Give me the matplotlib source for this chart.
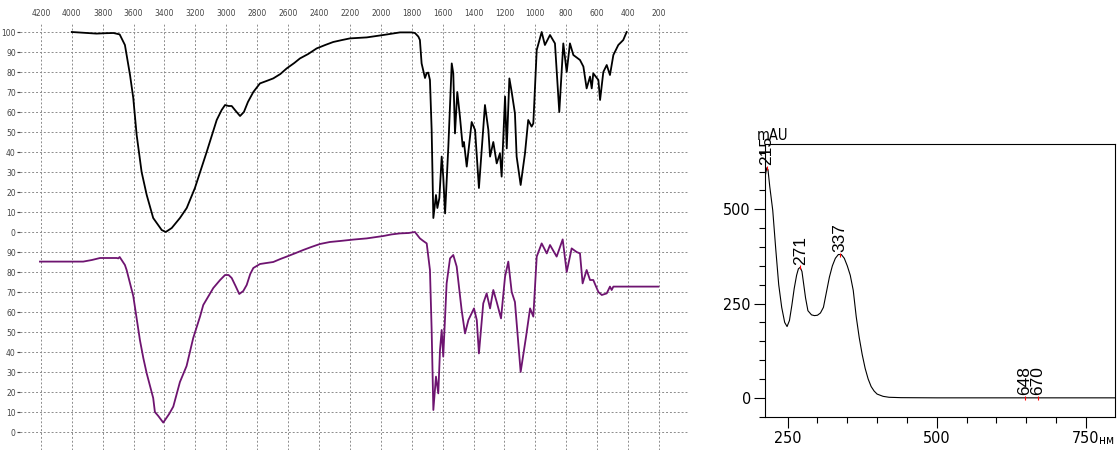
import matplotlib
matplotlib.use('Agg')
import matplotlib.pyplot as plt
from matplotlib.ticker import MultipleLocator
from matplotlib import font_manager
import numpy as np

# --- IR spectrum, upper trace (black), transmittance %
ir_top_wn = [4000, 3900, 3840, 3780, 3730, 3690, 3656, 3623, 3602, 3580, 3548, 3515, 3473, 3418, 3392,
             3353, 3300, 3256, 3203, 3127, 3062, 3030, 3008, 2985, 2965, 2944, 2911, 2886, 2860, 2825,
             2782, 2740, 2696, 2650, 2609, 2560, 2523, 2470, 2415, 2360, 2308, 2250, 2200, 2091, 1984,
             1876, 1800, 1779, 1757, 1747, 1736, 1714, 1703, 1693, 1682, 1671, 1660, 1643, 1634, 1621,
             1606, 1596, 1584, 1563, 1541, 1531, 1520, 1505, 1488, 1470, 1462, 1444, 1412, 1390, 1365,
             1326, 1304, 1293, 1272, 1250, 1229, 1218, 1196, 1185, 1168, 1153, 1132, 1121, 1095, 1067,
             1046, 1024, 1013, 991, 959, 938, 905, 873, 845, 819, 797, 776, 754, 711, 689,
             668, 646, 635, 625, 592, 581, 560, 538, 517, 495, 463, 431, 409]
ir_top_t = [100, 99.5, 99.2, 99.4, 99.5, 98.8, 93.5, 78.5, 67, 48.5, 30, 18.5, 7, 1, 0,
            2, 7, 12, 22, 40, 56, 61, 63.5, 63, 63, 61, 58, 60, 65, 70,
            74.3, 75.5, 76.8, 79, 81.8, 84.5, 86.8, 89, 91.8, 93.5, 95, 96, 96.8, 97.3, 98.5,
            99.8, 99.8, 99.5, 97.7, 96, 84.3, 77, 79.5, 79.7, 76, 51, 7, 18.5, 12, 17,
            37.7, 27.7, 9.3, 42.7, 84.3, 79.3, 49.3, 70, 57.7, 42.7, 45, 32.7, 55, 51, 22,
            63.5, 51, 37.7, 45, 34.3, 39.3, 27.7, 67.7, 41.8, 76.8, 70, 59.3, 37.7, 23.5, 39.3,
            56, 52.7, 54.3, 91, 100, 93.5, 98.5, 94.3, 60, 94.3, 80, 94.3, 88.5, 86, 82.7,
            71.8, 77.7, 71.8, 79.3, 76, 66, 80, 83.5, 78.5, 88.5, 93.5, 96, 100]

# --- IR spectrum, lower trace (purple)
ir_bot_wn = [4206, 3926, 3870, 3817, 3760, 3709, 3699, 3690, 3656, 3645, 3602, 3559, 3537, 3515, 3473,
             3462, 3440, 3408, 3370, 3343, 3300, 3257, 3214, 3170, 3149, 3084, 3040, 3008, 2985, 2965,
             2940, 2916, 2890, 2868, 2845, 2825, 2782, 2740, 2696, 2650, 2609, 2550, 2502, 2450, 2394,
             2330, 2264, 2180, 2091, 1984, 1930, 1876, 1820, 1779, 1747, 1725, 1703, 1682, 1671, 1660,
             1643, 1628, 1617, 1606, 1596, 1574, 1552, 1531, 1509, 1477, 1455, 1433, 1397, 1379, 1365,
             1337, 1315, 1293, 1272, 1250, 1222, 1196, 1175, 1153, 1132, 1095, 1060, 1034, 1013, 991,
             959, 926, 905, 862, 823, 797, 765, 733, 711, 694, 668, 646, 625, 592, 570,
             538, 517, 506, 495, 204]
ir_bot_t = [85.2, 85.2, 86, 87, 87, 87, 86.8, 87.5, 83.5, 81, 68, 46, 37, 29.3, 17,
            10, 8, 4.7, 9, 12.7, 25, 33, 47, 57.7, 63.5, 72, 76, 78.5, 78.5, 77,
            73, 69, 70.5, 73.5, 79, 82, 84, 84.5, 85, 86.5, 87.7, 89.5, 91, 92.5, 94,
            95, 95.5, 96.2, 96.8, 98, 98.8, 99.3, 99.5, 100, 96.8, 95.5, 94.3, 81, 51, 11,
            27.7, 19.3, 41, 51, 37.7, 74.3, 86.8, 88.5, 82.7, 61, 49.3, 56, 61.8, 56, 39.3,
            64.3, 69.3, 61.8, 71, 65, 56.8, 77.7, 85.2, 70, 65, 30, 47.7, 61.8, 57.7, 87.7,
            94.3, 89.3, 93.5, 87.7, 96.3, 80, 91.8, 90, 89.3, 74.3, 81, 76, 76, 70, 68.5,
            69.3, 72.7, 71, 72.7, 72.7]

ir_xticks = list(range(4200, 0, -200))
ir_ytick_labels = [str(v) for v in range(0, 100, 10)] + [str(v) for v in range(0, 110, 10)]

# --- UV spectrum (mAU vs nm)
uv_wl = [212, 215, 217, 220, 225, 230, 235, 240, 245, 249, 253, 257, 261, 265, 268, 271, 274, 277, 280,
         284, 290, 295, 300, 305, 310, 315, 320, 325, 330, 335, 340, 345, 350, 355, 360, 365, 370,
         375, 380, 385, 390, 395, 400, 410, 420, 440, 500, 600, 700, 800]
uv_mau = [585, 610, 605, 560, 497, 395, 300, 240, 200, 189, 205, 245, 290, 325, 342, 346, 335, 300, 265,
          231, 220, 218, 219, 225, 240, 280, 320, 350, 370, 380, 380, 370, 350, 325, 285, 215, 160,
          115, 78, 50, 30, 18, 10, 4, 1.5, 0.5, 0, 0, 0, 0]
uv_peaks = [215, 271, 337, 648, 670]
uv_peak_mau = [610, 346, 380, 0, 0]

# narrow face for the UV panel if one exists
names = {f.name for f in font_manager.fontManager.ttflist}
narrow_stretch = 'normal'
if 'Liberation Sans Narrow' in names:
    narrow = ['Liberation Sans Narrow', 'DejaVu Sans']
    tick_fs = 12.5
else:
    cond = [f for f in font_manager.fontManager.ttflist
            if f.name == 'DejaVu Sans' and str(f.stretch) in ('condensed', 'semi-condensed', '500')]
    narrow = ['DejaVu Sans']
    narrow_stretch = 'condensed' if cond else 'normal'
    tick_fs = 11.5

fig = plt.figure(figsize=(11.18, 4.5), dpi=100)

# IR panel
ax1 = fig.add_axes([20 / 1118, 0, 668 / 1118, 426 / 450])
ax1.plot(ir_top_wn, np.array(ir_top_t) + 100, color='black', lw=1.3)
ax1.plot(ir_bot_wn, ir_bot_t, color='#6e1470', lw=1.3)
ax1.set_xlim(4335, 12)
ax1.set_ylim(-9, 204)
ax1.set_xticks(ir_xticks)
ax1.set_xticklabels([str(v) for v in ir_xticks])
ax1.set_yticks(range(0, 210, 10))
ax1.set_yticklabels(ir_ytick_labels)
ax1.xaxis.tick_top()
ax1.tick_params(axis='x', length=0, pad=4, labelsize=5.5, colors='#444444')
ax1.tick_params(axis='y', length=2, pad=1, labelsize=5.5, colors='#444444')
ax1.grid(True, linestyle=(0, (2, 2)), color='#8c8c8c', lw=0.7)
for s in ax1.spines.values():
    s.set_visible(False)

# UV panel
ax2 = fig.add_axes([764.7 / 1118, 33.3 / 450, 350.3 / 1118, 272.7 / 450])
ax2.plot(uv_wl, uv_mau, color='black', lw=0.8)
ax2.plot(uv_peaks, uv_peak_mau, ls='none', marker='|', color='red', ms=3, mew=0.8)
for p, v in zip(uv_peaks, uv_peak_mau):
    ax2.annotate(str(p), (p, v), xytext=(0, 2), textcoords='offset points', rotation=90,
                 ha='center', va='bottom', fontsize=12.5, family=['Liberation Sans', 'DejaVu Sans'])
ax2.set_xlim(211.5, 799)
ax2.set_ylim(-50, 673)
ax2.set_xticks([250, 500, 750])
ax2.set_yticks([0, 250, 500])
ax2.xaxis.set_minor_locator(MultipleLocator(50))
ax2.yaxis.set_minor_locator(MultipleLocator(50))
ax2.tick_params(which='major', direction='out', length=8, width=0.8, pad=2)
ax2.tick_params(which='minor', direction='out', length=4.5, width=0.8)
for lab in ax2.get_xticklabels() + ax2.get_yticklabels():
    lab.set_family(narrow)
    lab.set_fontstretch(narrow_stretch)
    lab.set_fontsize(tick_fs)
for s in ax2.spines.values():
    s.set_linewidth(0.8)
fig.text(757 / 1118, 1 - 143 / 450, 'mAU', ha='left', va='bottom', fontsize=10.5, family=narrow,
         fontstretch=narrow_stretch)
fig.text(1099 / 1118, 1 - 441 / 450, 'нм', ha='left', va='center', fontsize=8.5, family=narrow,
         fontstretch=narrow_stretch)

fig.savefig('out.png', dpi=100)
